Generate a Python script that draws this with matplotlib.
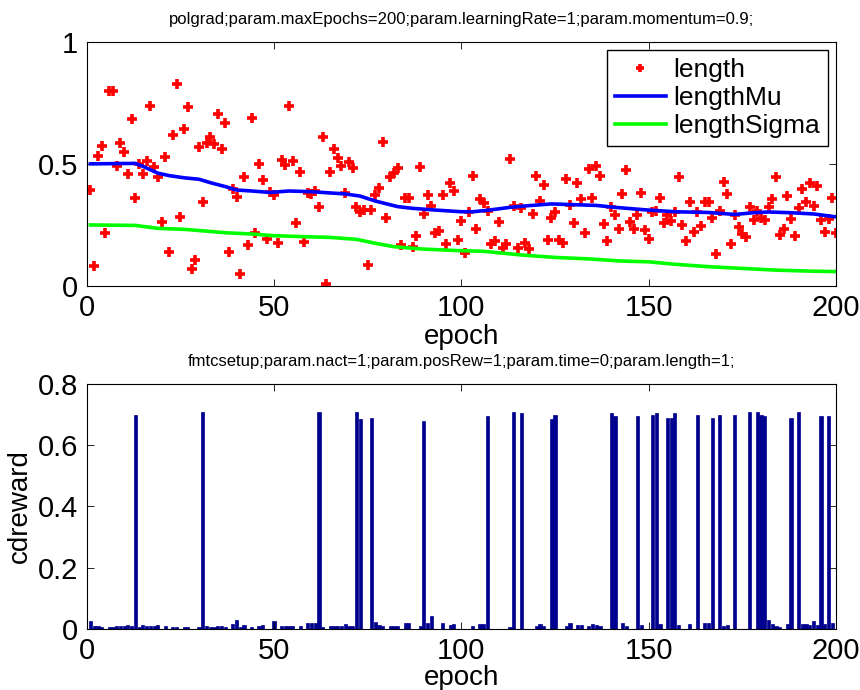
import numpy as np
import matplotlib
matplotlib.use('Agg')
import matplotlib.pyplot as plt

plt.rcParams['font.family'] = ['Liberation Sans', 'DejaVu Sans']

# epochs 1..200
epochs = np.arange(1, 201)

# sampled "length" per epoch (red crosses)
length = [0.393, 0.082, 0.532, 0.573, 0.216, 0.80, 0.80, 0.491, 0.587, 0.548,
          0.457, 0.685, 0.359, 0.50, 0.457, 0.513, 0.737, 0.488, 0.445, 0.263,
          0.527, 0.141, 0.619, 0.829, 0.284, 0.644, 0.731, 0.068, 0.106, 0.568,
          0.342, 0.584, 0.608, 0.581, 0.704, 0.561, 0.668, 0.141, 0.396, 0.363,
          0.048, 0.447, 0.168, 0.689, 0.218, 0.498, 0.434, 0.191, 0.383, 0.372,
          0.177, 0.516, 0.495, 0.738, 0.513, 0.256, 0.465, 0.180, 0.382, 0.377,
          0.390, 0.325, 0.608, 0.007, 0.468, 0.559, 0.524, 0.491, 0.382, 0.506,
          0.483, 0.325, 0.303, 0.311, 0.086, 0.311, 0.374, 0.401, 0.589, 0.280,
          0.445, 0.461, 0.483, 0.169, 0.359, 0.359, 0.158, 0.205, 0.486, 0.295,
          0.374, 0.327, 0.218, 0.226, 0.374, 0.172, 0.420, 0.390, 0.188, 0.267,
          0.134, 0.305, 0.450, 0.233, 0.357, 0.338, 0.308, 0.171, 0.184, 0.262,
          0.154, 0.172, 0.520, 0.329, 0.157, 0.318, 0.177, 0.150, 0.293, 0.450,
          0.347, 0.412, 0.188, 0.277, 0.302, 0.188, 0.177, 0.438, 0.333, 0.259,
          0.420, 0.355, 0.218, 0.477, 0.359, 0.491, 0.450, 0.252, 0.184, 0.325,
          0.291, 0.233, 0.375, 0.475, 0.263, 0.232, 0.292, 0.382, 0.229, 0.192,
          0.304, 0.307, 0.359, 0.256, 0.290, 0.266, 0.304, 0.445, 0.250, 0.184,
          0.342, 0.222, 0.301, 0.246, 0.342, 0.342, 0.280, 0.130, 0.308, 0.424,
          0.377, 0.172, 0.290, 0.240, 0.213, 0.202, 0.322, 0.270, 0.308, 0.280,
          0.270, 0.325, 0.355, 0.445, 0.209, 0.233, 0.368, 0.273, 0.205, 0.318,
          0.396, 0.345, 0.420, 0.327, 0.410, 0.270, 0.220, 0.273, 0.359, 0.218]

# lengthMu / lengthSigma read at a few epochs
mu_ep = [1, 13, 15, 19, 22, 26, 30, 33, 37, 40, 44, 49, 54, 60, 69, 73, 77, 83,
         87, 93, 100, 103, 107, 113, 118, 124, 130, 136, 141, 149, 157, 166, 173,
         178, 182, 188, 194, 200]
mu = [0.500, 0.502, 0.490, 0.462, 0.452, 0.443, 0.437, 0.423, 0.407, 0.393,
      0.389, 0.383, 0.389, 0.386, 0.377, 0.368, 0.348, 0.325, 0.318, 0.311,
      0.304, 0.304, 0.310, 0.322, 0.329, 0.336, 0.333, 0.330, 0.322, 0.312,
      0.304, 0.301, 0.293, 0.300, 0.303, 0.300, 0.295, 0.283]
sig_ep = [1, 13, 19, 26, 31, 37, 44, 50, 58, 65, 72, 77, 82, 90, 99, 106, 116,
          125, 134, 143, 150, 157, 166, 175, 184, 193, 200]
sig = [0.250, 0.248, 0.236, 0.232, 0.226, 0.218, 0.213, 0.206, 0.202, 0.199,
       0.191, 0.175, 0.161, 0.151, 0.145, 0.142, 0.127, 0.117, 0.111, 0.102,
       0.099, 0.089, 0.079, 0.072, 0.065, 0.061, 0.059]

# cdreward per epoch
reward = [0.025, 0.008, 0.008, 0.007, 0.000, 0.006, 0.007, 0.009, 0.008, 0.010,
          0.012, 0.008, 0.700, 0.006, 0.011, 0.009, 0.008, 0.010, 0.012, 0.000,
          0.008, 0.000, 0.007, 0.006, 0.000, 0.006, 0.005, 0.000, 0.000, 0.007,
          0.710, 0.008, 0.006, 0.007, 0.008, 0.008, 0.007, 0.000, 0.017, 0.030,
          0.005, 0.012, 0.000, 0.005, 0.000, 0.010, 0.012, 0.000, 0.000, 0.025,
          0.000, 0.009, 0.009, 0.010, 0.008, 0.000, 0.010, 0.000, 0.019, 0.020,
          0.018, 0.707, 0.006, 0.000, 0.009, 0.009, 0.009, 0.010, 0.016, 0.010,
          0.009, 0.707, 0.687, 0.000, 0.000, 0.690, 0.022, 0.013, 0.008, 0.000,
          0.010, 0.010, 0.010, 0.000, 0.020, 0.019, 0.000, 0.000, 0.010, 0.680,
          0.020, 0.040, 0.000, 0.000, 0.018, 0.000, 0.012, 0.014, 0.000, 0.000,
          0.000, 0.000, 0.008, 0.000, 0.017, 0.017, 0.695, 0.000, 0.000, 0.000,
          0.000, 0.000, 0.005, 0.710, 0.000, 0.705, 0.000, 0.000, 0.000, 0.010,
          0.017, 0.010, 0.000, 0.685, 0.700, 0.000, 0.000, 0.010, 0.020, 0.000,
          0.012, 0.012, 0.000, 0.010, 0.017, 0.012, 0.010, 0.000, 0.000, 0.705,
          0.695, 0.000, 0.020, 0.010, 0.000, 0.000, 0.695, 0.012, 0.000, 0.000,
          0.700, 0.705, 0.015, 0.000, 0.690, 0.690, 0.705, 0.012, 0.000, 0.000,
          0.017, 0.000, 0.700, 0.000, 0.020, 0.020, 0.690, 0.000, 0.700, 0.010,
          0.012, 0.000, 0.700, 0.000, 0.000, 0.000, 0.710, 0.000, 0.707, 0.700,
          0.695, 0.028, 0.015, 0.010, 0.005, 0.000, 0.015, 0.690, 0.000, 0.710,
          0.015, 0.015, 0.012, 0.025, 0.012, 0.695, 0.015, 0.695, 0.020, 0.000]

title1 = 'polgrad;param.maxEpochs=200;param.learningRate=1;param.momentum=0.9;'
title2 = 'fmtcsetup;param.nact=1;param.posRew=1;param.time=0;param.length=1;'

fig = plt.figure(figsize=(8.6, 6.9), dpi=100)
ax1 = fig.add_axes([0.1008, 0.5855, 0.8713, 0.354])
ax2 = fig.add_axes([0.1008, 0.0888, 0.8713, 0.3547])

ax1.plot(epochs, length, '+', color='r', markersize=7, markeredgewidth=2.6, label='length')
ax1.plot(mu_ep, mu, '-', color='b', lw=2.6, label='lengthMu')
ax1.plot(sig_ep, sig, '-', color=(0, 1, 0), lw=2.6, label='lengthSigma')
ax1.set_xlim(0, 200)
ax1.set_ylim(0, 1)
ax1.set_xticks([0, 50, 100, 150, 200])
ax1.set_yticks([0, 0.5, 1])
ax1.set_yticklabels(['0', '0.5', '1'])
ax1.set_xlabel('epoch', fontsize=20, labelpad=1)
ax1.set_title(title1, fontsize=12, pad=13)
leg = ax1.legend(loc='upper right', bbox_to_anchor=(0.989, 0.966), borderaxespad=0,
                 fontsize=19, fancybox=False, framealpha=1, edgecolor='k',
                 handlelength=1.95, handletextpad=0.27, labelspacing=0.15,
                 borderpad=0.3, markerscale=0.8)
leg.get_frame().set_linewidth(1.0)

ax2.bar(epochs, reward, width=0.85, color='#00008F', edgecolor='#00008F', linewidth=0.5)
ax2.set_xlim(0, 200)
ax2.set_ylim(0, 0.8)
ax2.set_xticks([0, 50, 100, 150, 200])
ax2.set_yticks([0, 0.2, 0.4, 0.6, 0.8])
ax2.set_yticklabels(['0', '0.2', '0.4', '0.6', '0.8'])
ax2.set_xlabel('epoch', fontsize=20, labelpad=0)
ax2.set_ylabel('cdreward', fontsize=20)
ax2.set_title(title2, fontsize=12, pad=13)

for ax in (ax1, ax2):
    ax.tick_params(direction='in', top=True, right=True, labelsize=21,
                   length=5, width=0.6, pad=6)
    for s in ax.spines.values():
        s.set_linewidth(0.8)

fig.savefig('out.png', dpi=100)
